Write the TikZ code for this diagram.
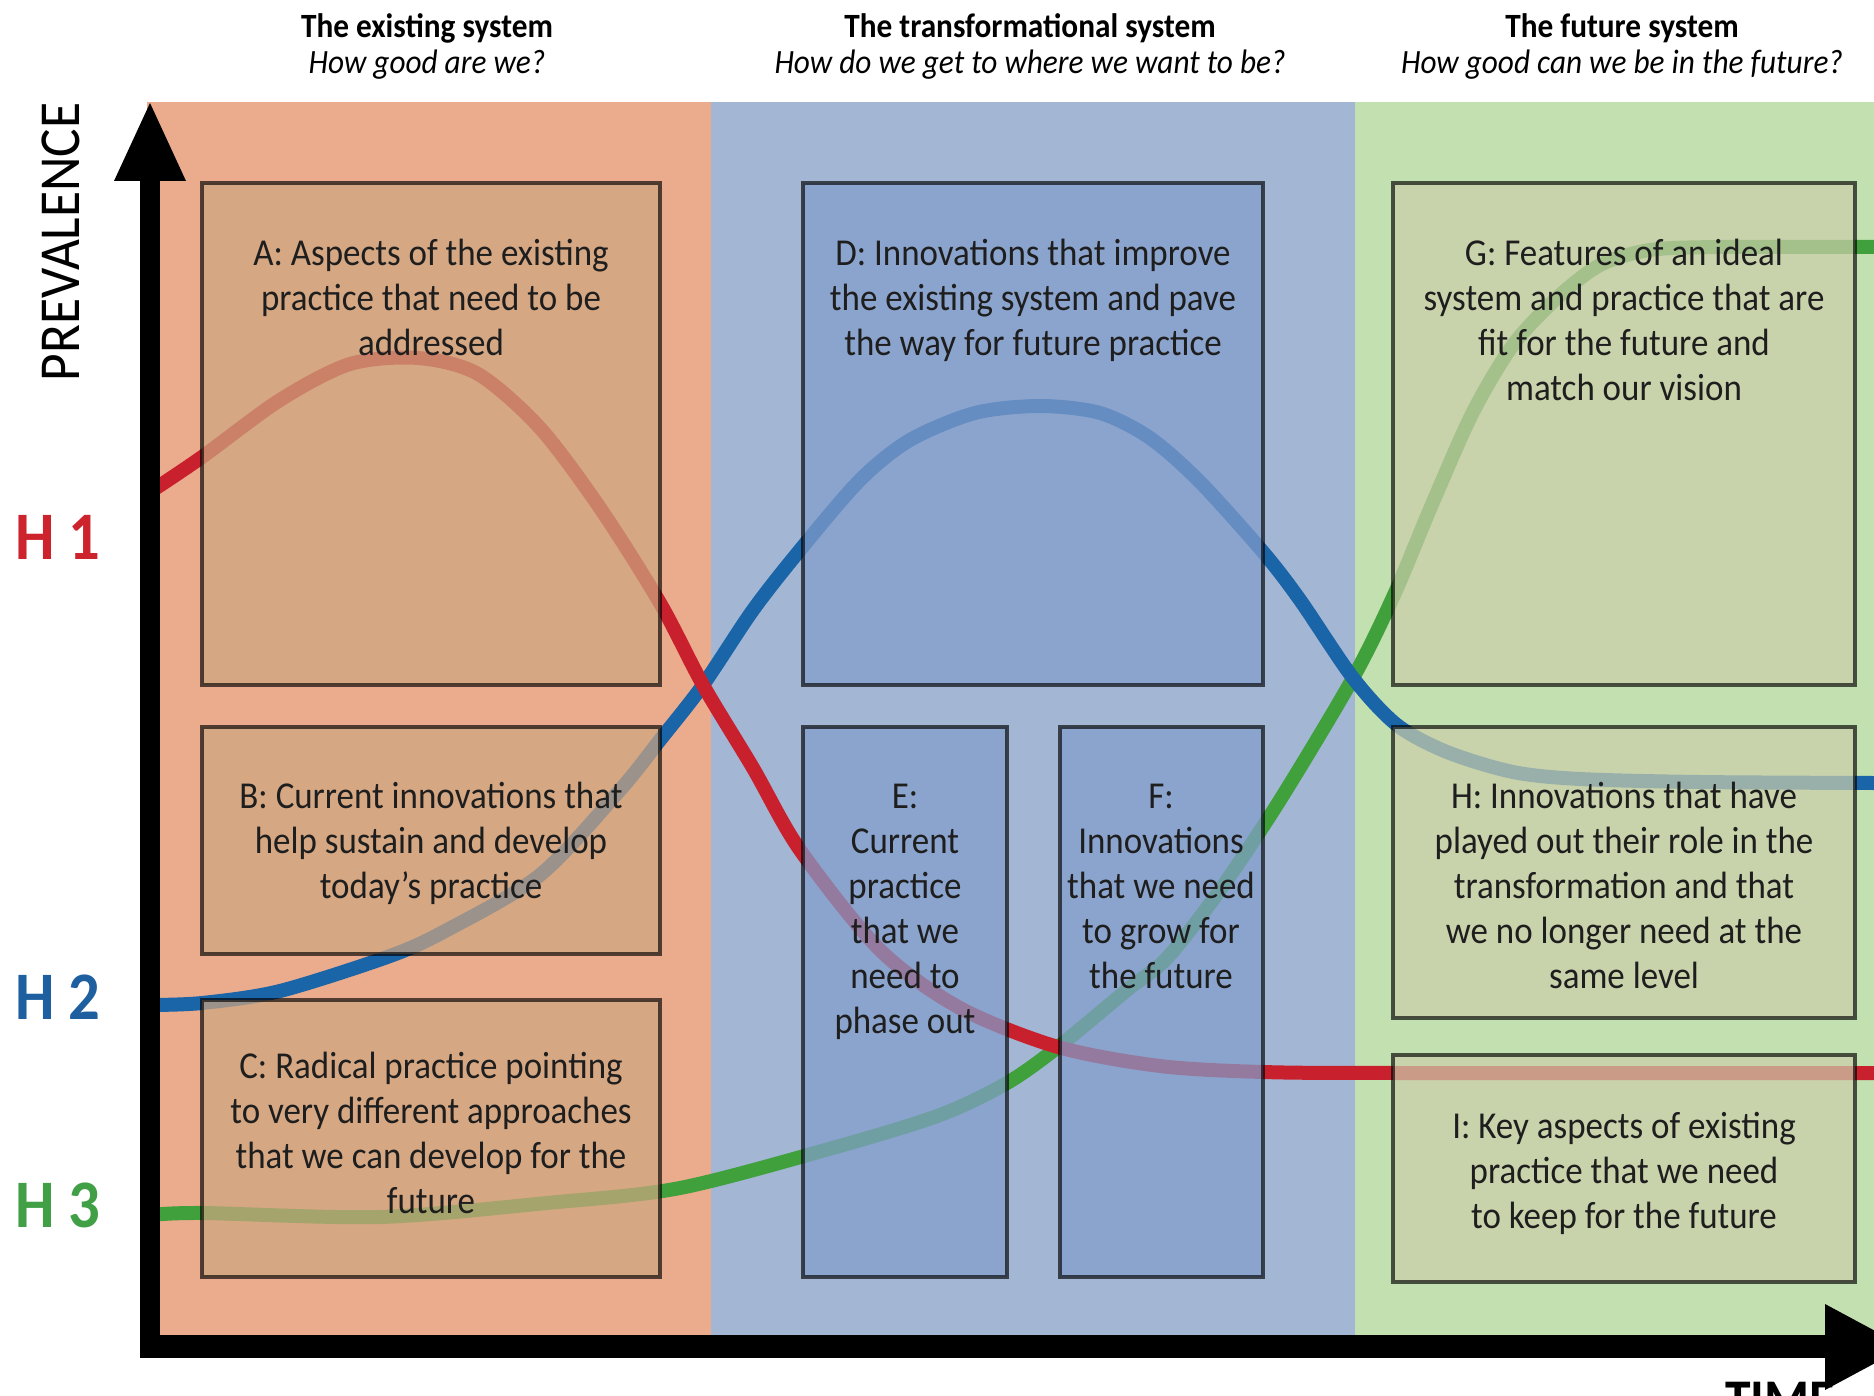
\documentclass[tikz,border=0pt]{standalone}
\usepackage{fontspec}
\setmainfont{Carlito}[FakeStretch=0.92]
\definecolor{bandO}{RGB}{235,171,141}
\definecolor{bandB}{RGB}{163,182,212}
\definecolor{bandG}{RGB}{195,224,176}
\definecolor{fillO}{RGB}{205,166,128}
\definecolor{fillB}{RGB}{130,158,203}
\definecolor{fillG}{RGB}{203,205,170}
\definecolor{hred}{RGB}{200,32,45}
\definecolor{hblue}{RGB}{26,100,168}
\definecolor{hgreen}{RGB}{63,160,60}
\definecolor{lred}{RGB}{205,35,45}
\definecolor{lblue}{RGB}{30,95,160}
\definecolor{lgreen}{RGB}{65,160,70}
\definecolor{txtc}{RGB}{30,30,30}
\tikzset{
  panel/.style={fill opacity=0.72, draw=black, draw opacity=0.65, line width=1.6pt},
  curve/.style={line width=7pt, line cap=butt},
  boxtxt/.style={anchor=base, inner sep=0pt, text=txtc, font=\fontsize{19}{22.5}\selectfont},
  headtxt/.style={anchor=base, inner sep=0pt, text=black, font=\fontsize{17}{18}\selectfont},
  hlabel/.style={inner sep=0pt, font=\fontsize{34}{34}\selectfont\bfseries},
}
\begin{document}
\begin{tikzpicture}[x=0.5pt, y=-0.5pt]
\useasboundingbox (0,0) rectangle (1874,1396);
\clip (0,0) rectangle (1874,1396);
\fill[white] (0,0) rectangle (1874,1396);
% bands
\fill[bandO] (147,102) rectangle (711,1340);
\fill[bandB] (711,102) rectangle (1355,1340);
\fill[bandG] (1355,102) rectangle (1874,1340);
% curves
\draw[curve, hgreen] plot[smooth, tension=0.5] coordinates {(150,1215) (202,1213) (380,1217) (547,1203) (680,1188) (836,1147) (940,1115) (1007,1083) (1058,1047) (1127,990) (1167,958) (1220,890) (1280,800) (1353,678) (1394,595) (1433,502) (1473,412) (1513,345) (1557,298) (1600,265) (1650,250) (1720,247) (1874,247)};
\draw[curve, hblue] plot[smooth, tension=0.5] coordinates {(150,1005) (202,1003) (280,991) (390,956) (447,930) (540,875) (620,790) (660,740) (703,685) (753,610) (800,550) (860,480) (910,440) (975,413) (1040,406) (1100,413) (1150,438) (1200,482) (1263,552) (1300,600) (1353,678) (1397,725) (1447,752) (1513,772) (1580,779) (1700,782) (1874,783)};
\draw[curve, hred] plot[smooth, tension=0.5] coordinates {(150,492) (202,457) (280,400) (350,364) (418,358) (478,374) (540,428) (600,508) (660,603) (703,685) (753,768) (800,850) (880,950) (960,1008) (1058,1047) (1160,1066) (1263,1072) (1400,1073) (1874,1073)};
% boxes
\path[panel, fill=fillO] (202,183) rectangle (660,685);
\path[panel, fill=fillO] (202,727) rectangle (660,954);
\path[panel, fill=fillO] (202,1000) rectangle (660,1277);
\path[panel, fill=fillB] (803,183) rectangle (1263,685);
\path[panel, fill=fillB] (803,727) rectangle (1007,1277);
\path[panel, fill=fillB] (1060,727) rectangle (1263,1277);
\path[panel, fill=fillG] (1393,183) rectangle (1855,685);
\path[panel, fill=fillG] (1393,727) rectangle (1855,1018);
\path[panel, fill=fillG] (1393,1055) rectangle (1855,1282);
% box texts
\node[boxtxt] (tA) at (431,266) {\parbox[t]{220pt}{\centering A: Aspects of the existing\\practice that need to be\\addressed}};
\node[boxtxt] (tB) at (431,808) {\parbox[t]{220pt}{\centering B: Current innovations that\\help sustain and develop\\today's practice}};
\node[boxtxt] (tC) at (431,1078) {\parbox[t]{220pt}{\centering C: Radical practice pointing\\to very different approaches\\that we can develop for the\\future}};
\node[boxtxt] (tD) at (1033,266) {\parbox[t]{220pt}{\centering D: Innovations that improve\\the existing system and pave\\the way for future practice}};
\node[boxtxt] (tE) at (905,808) {\parbox[t]{100pt}{\centering E:\\Current\\practice\\that we\\need to\\phase out}};
\node[boxtxt] (tF) at (1161,808) {\parbox[t]{100pt}{\centering F:\\Innovations\\that we need\\to grow for\\the future}};
\node[boxtxt] (tG) at (1624,266) {\parbox[t]{220pt}{\centering G: Features of an ideal\\system and practice that are\\fit for the future and\\match our vision}};
\node[boxtxt] (tH) at (1624,808) {\parbox[t]{220pt}{\centering H: Innovations that have\\played out their role in the\\transformation and that\\we no longer need at the\\same level}};
\node[boxtxt] (tI) at (1624,1138) {\parbox[t]{220pt}{\centering I: Key aspects of existing\\practice that we need\\to keep for the future}};
% headers
\node[headtxt] (h1) at (427,38) {\parbox[t]{260pt}{\centering\textbf{The existing system}\\\textit{How good are we?}}};
\node[headtxt] (h2) at (1030,38) {\parbox[t]{300pt}{\centering\textbf{The transformational system}\\\textit{How do we get to where we want to be?}}};
\node[headtxt] (h3) at (1622,38) {\parbox[t]{260pt}{\centering\textbf{The future system}\\\textit{How good can we be in the future?}}};
% axes
\fill[black] (140,175) rectangle (160,1358);
\fill[black] (140,1335) rectangle (1830,1358);
\fill[black] (150,103) -- (114,181) -- (186,181) -- cycle;
\fill[black] (1905,1347) -- (1825,1304) -- (1825,1390) -- cycle;
% axis labels
\node[inner sep=0pt, rotate=90, font=\fontsize{29}{29}\selectfont] (prev) at (61,242) {PREVALENCE};
\node[inner sep=0pt, anchor=north, font=\fontsize{28}{28}\selectfont\bfseries] (time) at (1780,1382) {TIME};
\node[hlabel, text=lred] (H1) at (58,537) {H 1};
\node[hlabel, text=lblue] (H2) at (58,997) {H 2};
\node[hlabel, text=lgreen] (H3) at (58,1205) {H 3};
\end{tikzpicture}
\end{document}
